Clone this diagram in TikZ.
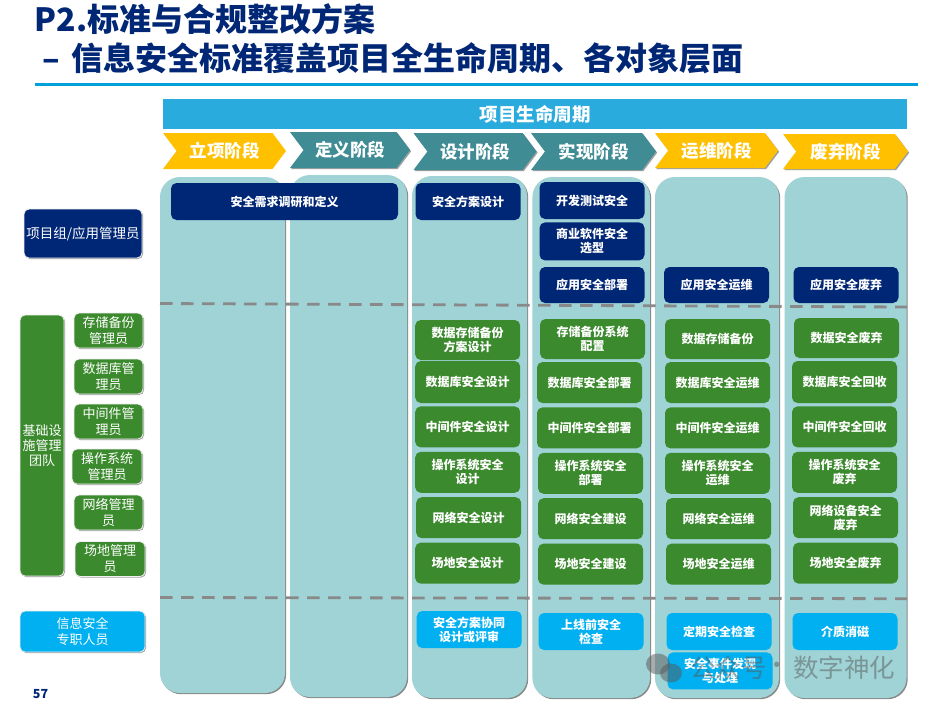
\documentclass[tikz,border=0pt]{standalone}
\usepackage{fontspec}
\setmainfont{Noto Sans CJK SC}
\usepackage{xcolor}
\usetikzlibrary{positioning, shapes.symbols, shapes.geometric, shadows}
\definecolor{inknavy}{HTML}{002776}
\definecolor{inkband}{HTML}{29ABDD}
\definecolor{inkrule}{HTML}{00A0DC}
\definecolor{okyellow}{HTML}{FFC000}
\definecolor{okteal}{HTML}{3F8C94}
\definecolor{okgreen}{HTML}{3C8A2E}
\definecolor{oksky}{HTML}{00B0F0}
\definecolor{lanefill}{HTML}{9FD3D6}
\definecolor{inkdash}{HTML}{898989}

\begin{document}
\begin{tikzpicture}[
  x=1pt, y=-1pt,
  lane/.style    = {fill=lanefill, rounded corners=20pt, inner sep=0pt,
                    drop shadow={shadow xshift=1.2pt, shadow yshift=-1.2pt, fill=inkdash, opacity=1}},
  stage/.style   = {signal, signal to=east, signal from=west, signal pointer angle=106,
                    inner sep=0pt, minimum width=123pt, minimum height=36pt, text=white,
                    font=\fontsize{17.5}{20}\selectfont\bfseries},
  stageb/.style  = {stage, drop shadow={shadow xshift=1.2pt, shadow yshift=-1.2pt, fill=inkdash, opacity=.8}},
  task/.style    = {rounded corners=5.5pt, inner sep=0pt, align=center, text=white,
                    minimum width=105pt, font=\fontsize{12}{14}\selectfont\bfseries},
  navybox/.style = {task, fill=inknavy, minimum height=37pt},
  greenbox/.style= {task, fill=okgreen, minimum height=41pt},
  skybox/.style  = {task, fill=oksky, minimum height=37pt},
  role/.style    = {rounded corners=5pt, inner sep=0pt, align=center, text=white, draw=black!6,
                    line width=0.8pt, font=\fontsize{13}{16}\selectfont,
                    drop shadow={shadow xshift=1pt, shadow yshift=-1pt, fill=inkdash, opacity=.8}},
  admin/.style   = {role, fill=okgreen, minimum width=69pt, minimum height=35pt},
  sep/.style     = {draw=inkdash, line width=2.8pt, dash pattern=on 12.5pt off 8.5pt},
  wmark/.style   = {text=black!65, opacity=.5, inner sep=0pt, font=\fontsize{25.5}{28}\selectfont},
]
\path[use as bounding box, fill=white] (0,0) rectangle (925,705);

% ---- heading
\node[anchor=west, inner sep=0pt, text=inknavy, font=\fontsize{32}{36}\selectfont\bfseries]
     (head1) at (34.5,19) {P2.标准与合规整改方案};
\node[anchor=west, inner sep=0pt, text=inknavy, font=\fontsize{32}{36}\selectfont\bfseries]
     (head2) at (42,58) {–\hspace{12pt}信息安全标准覆盖项目全生命周期、各对象层面};
\fill[inkrule] (35,82.5) rectangle (918,85.5);
\node[anchor=north west, fill=inkband, minimum width=744pt, minimum height=30pt, inner sep=0pt,
      text=white, font=\fontsize{18.5}{21}\selectfont\bfseries] (life) at (163,99) {项目生命周期};

% ---- stages
\node[stage, fill=okyellow] (st1) at (224.5,151) {立项阶段};
\node[stageb, fill=okteal, minimum width=120pt] (st2) at (350,150) {定义阶段};
\node[stageb, fill=okteal, minimum height=37pt] (st3) at (475,151.5) {设计阶段};
\node[stageb, fill=okteal, minimum height=37pt, minimum width=125pt] (st4) at (593.5,151.5) {实现阶段};
\node[stageb, fill=okyellow, minimum height=35pt] (st5) at (716.5,150.5) {运维阶段};
\node[stageb, fill=okyellow, minimum height=35pt, minimum width=125pt] (st6) at (845.5,151.5) {废弃阶段};

% ---- lanes
\node[lane, minimum width=125pt, minimum height=516pt] (lane1) at (222.5,435) {};
\node[lane, minimum width=117pt, minimum height=522pt] (lane2) at (348.5,436) {};
\node[lane, minimum width=115pt, minimum height=522pt] (lane3) at (469.5,437) {};
\node[lane, minimum width=117.5pt, minimum height=521pt] (lane4) at (591.2,437.5) {};
\node[lane, minimum width=124pt, minimum height=521pt] (lane5) at (717,437.5) {};
\node[lane, minimum width=122pt, minimum height=521pt] (lane6) at (845.5,437.5) {};

\coordinate (sepa1) at (160,303.5);
\coordinate (sepa2) at (907,307);
\coordinate (sepb1) at (160,597.5);
\coordinate (sepb2) at (907,598.7);
\draw[sep] (sepa1) -- (sepa2);
\draw[sep] (sepb1) -- (sepb2);

% ---- application layer
\node[navybox, minimum width=227pt] (req) at (284.5,201.5) {安全需求调研和定义};
\node[navybox] (app3) at (468,201.5) {安全方案设计};
\node[navybox] (dev) at (592,200.5) {开发测试安全};
\node[navybox, below=3pt of dev, minimum height=38pt] (buy) {商业软件安全\\选型};
\node[navybox, minimum height=36pt] (app4) at (592,285) {应用安全部署};
\node[navybox, minimum height=36pt] (app5) at (716.5,285) {应用安全运维};
\node[navybox, minimum height=36pt] (app6) at (846,285) {应用安全废弃};

% ---- infrastructure layer
\node[greenbox, minimum height=40pt] (data3) at (467.7,340) {数据存储备份\\方案设计};
\node[greenbox, minimum height=42pt] (db3) at (467.7,382) {数据库安全设计};
\node[greenbox, below=3pt of db3] (mid3) {中间件安全设计};
\node[greenbox, below=4pt of mid3] (os3) {操作系统安全\\设计};
\node[greenbox, below=4pt of os3, xshift=1pt] (net3) {网络安全设计};
\node[greenbox, below=4pt of net3, xshift=-1pt] (site3) {场地安全设计};

\node[greenbox, minimum height=40pt] (data4) at (592.5,339) {存储备份系统\\配置};
\node[greenbox] (db4) at (589.5,382.5) {数据库安全部署};
\node[greenbox, below=4pt of db4] (mid4) {中间件安全部署};
\node[greenbox, below=4pt of mid4, xshift=1pt] (os4) {操作系统安全\\部署};
\node[greenbox, below=4pt of os4] (net4) {网络安全建设};
\node[greenbox, below=4pt of net4] (site4) {场地安全建设};

\node[greenbox, minimum height=40pt] (data5) at (717.5,339) {数据存储备份};
\node[greenbox] (db5) at (717.5,382.5) {数据库安全运维};
\node[greenbox, below=4pt of db5] (mid5) {中间件安全运维};
\node[greenbox, below=4pt of mid5] (os5) {操作系统安全\\运维};
\node[greenbox, below=4pt of os5, xshift=1pt] (net5) {网络安全运维};
\node[greenbox, below=4pt of net5] (site5) {场地安全运维};

\node[greenbox, minimum height=40pt] (data6) at (846.5,338) {数据安全废弃};
\node[greenbox, minimum height=42pt] (db6) at (844.5,382) {数据库安全回收};
\node[greenbox, below=3pt of db6] (mid6) {中间件安全回收};
\node[greenbox, below=4pt of mid6] (os6) {操作系统安全\\废弃};
\node[greenbox, below=4pt of os6, xshift=1pt] (net6) {网络设备安全\\废弃};
\node[greenbox, below=4pt of net6] (site6) {场地安全废弃};

% ---- security staff layer
\node[skybox] (co3) at (469.2,629.5) {安全方案协同\\设计或评审};
\node[skybox] (co4) at (591,631.5) {上线前安全\\检查};
\node[skybox] (co5) at (719,631.5) {定期安全检查};
\node[skybox, below=2pt of co5, xshift=1pt] (inc) {安全事件发现\\与处理};
\node[skybox] (co6) at (845,631.5) {介质消磁};

% ---- roles
\node[role, fill=inknavy, minimum width=118pt, minimum height=49pt,
      font=\fontsize{13.5}{16}\selectfont] (pm) at (83,233.5) {项目组/应用管理员};
\node[role, fill=okgreen, minimum width=44pt, minimum height=261pt,
      font=\fontsize{13}{15}\selectfont] (infra) at (42,445.5) {基础设\\施管理\\团队};
\node[admin] (ad1) at (108.5,330.5) {存储备份\\管理员};
\node[admin] (ad2) at (108.5,376.5) {数据库管\\理员};
\node[admin] (ad3) at (108.5,421.5) {中间件管\\理员};
\node[admin, minimum width=70pt] (ad4) at (107,466.5) {操作系统\\管理员};
\node[admin] (ad5) at (108.5,512.5) {网络管理\\员};
\node[admin, minimum width=70pt] (ad6) at (110,559) {场地管理\\员};
\node[role, fill=oksky, minimum width=125pt, minimum height=41pt] (sec) at (82.5,631.5) {信息安全\\专职人员};

\node[inner sep=0pt, text=inknavy, font=\fontsize{12.5}{14}\selectfont\bfseries] (page) at (40.5,694) {57};

% ---- watermark
\node[wmark, fill=black!65, ellipse, minimum width=24pt, minimum height=21pt] (wx1) at (658,664) {};
\node[wmark, fill=black!65, ellipse, minimum width=22pt, minimum height=19pt] (wx2) at (671,673) {};
\node[wmark, anchor=west] (wm1) at (690,668) {公众号};
\node[wmark] (wmdot) at (777,668) {·};
\node[wmark, anchor=west] (wm2) at (793,668) {数字神化};

\end{tikzpicture}
\end{document}
